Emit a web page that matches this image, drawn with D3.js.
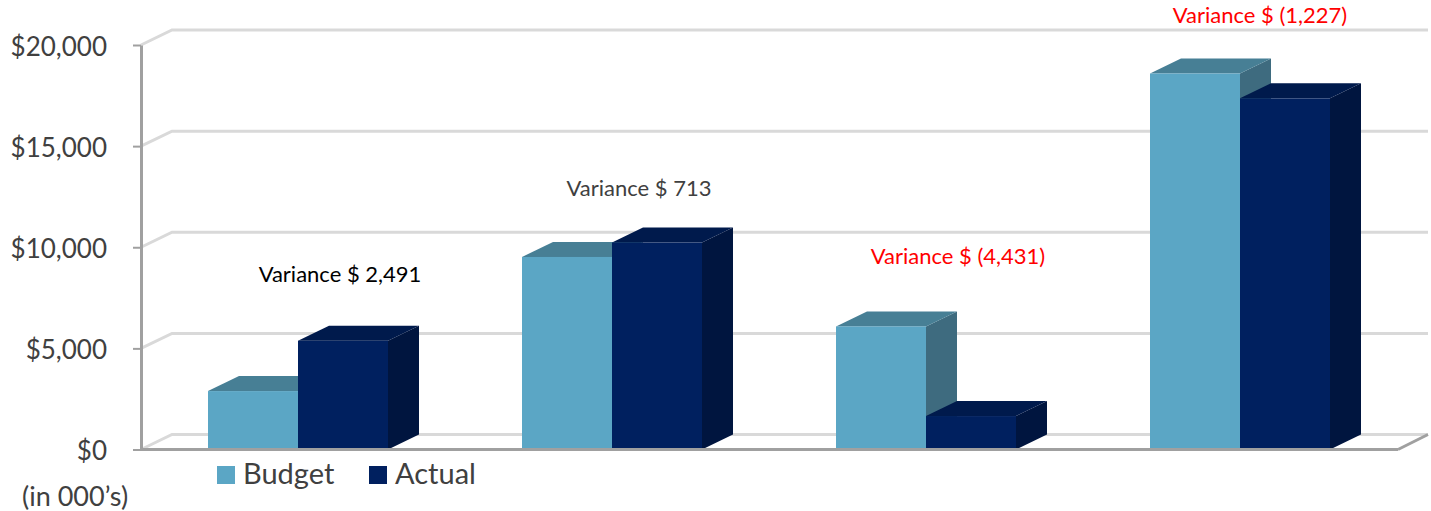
<!DOCTYPE html>
<html>
<head>
<meta charset="utf-8">
<script src="https://cdn.jsdelivr.net/npm/d3@7"></script>
<style>
  html, body { margin: 0; padding: 0; background: #fff; }
  svg { display: block; }
  text { font-family: Lato, "Open Sans", sans-serif; }
</style>
</head>
<body>
<script>
var quarters = ["Q1", "Q2", "Q3", "Q4"];
var seriesNames = ["Budget", "Actual"];
var budget = [2889, 9520, 6085, 18590];
var actual = [5380, 10233, 1654, 17363];
var tickValues = [0, 5000, 10000, 15000, 20000];
var varianceLabels = ["Variance $ 2,491", "Variance $ 713", "Variance $ (4,431)", "Variance $ (1,227)"];

var svgWidth = 1431;
var svgHeight = 511;

// 3D look: how far the back wall is shifted from the front plane
var depthX = 31;
var depthY = -15;

var plotLeft = 141, plotRight = 1397, plotTop = 45, plotBottom = 449.5;

var colors = {
  Budget: { front: "#5ba6c5", top: "#477f95", side: "#3e6b7f" },
  Actual: { front: "#00205f", top: "#001a4c", side: "#00153f" }
};

// label anchor relative to band centre, and baseline
var labelLayout = [
  { dx: 42, y: 282, fill: "#000000" },
  { dx: 27, y: 196, fill: "#404040" },
  { dx: 32, y: 264, fill: "#ff0000" },
  { dx: 20, y: 23, fill: "#ff0000" }
];

var svg = d3.select("body")
  .append("svg")
  .attr("width", svgWidth)
  .attr("height", svgHeight);

var x = d3.scaleBand()
  .domain(quarters)
  .range([plotLeft, plotRight]);

var barWidth = 90;
var inner = d3.scaleBand()
  .domain(seriesNames)
  .range([0, barWidth * 2]);

var y = d3.scaleLinear()
  .domain([0, 20000])
  .range([plotBottom, plotTop]);

// Back wall gridlines
var grid = svg.append("g");
tickValues.forEach(function(t) {
  grid.append("path")
    .attr("d", d3.line()([[plotLeft, y(t)], [plotLeft + depthX, y(t) + depthY], [plotRight + depthX, y(t) + depthY]]))
    .attr("fill", "none")
    .attr("stroke", "#d9d9d9")
    .attr("stroke-width", 3);
});

// Floor edge on the right, front edge drawn after the bars
svg.append("path")
  .attr("d", d3.line()([[plotRight + 1, plotBottom], [plotRight + depthX, plotBottom + depthY]]))
  .attr("fill", "none")
  .attr("stroke", "#a0a0a0")
  .attr("stroke-width", 3);

// Bars
var bars = svg.append("g");
quarters.forEach(function(q, i) {
  var groupStart = x(q) + (x.bandwidth() - barWidth * 2) / 2;
  var values = { Budget: budget[i], Actual: actual[i] };
  seriesNames.forEach(function(name) {
    var x0 = groupStart + inner(name);
    var x1 = x0 + inner.bandwidth();
    var y0 = y(values[name]);
    var y1 = y(0);
    var c = colors[name];
    var poly = d3.line();

    bars.append("path")
      .attr("d", poly([[x1, y1], [x1 + depthX, y1 + depthY], [x1 + depthX, y0 + depthY], [x1, y0]]) + "Z")
      .attr("fill", c.side);
    bars.append("path")
      .attr("d", poly([[x0, y0], [x0 + depthX, y0 + depthY], [x1 + depthX, y0 + depthY], [x1, y0]]) + "Z")
      .attr("fill", c.top);
    bars.append("rect")
      .attr("x", x0)
      .attr("y", y0)
      .attr("width", x1 - x0)
      .attr("height", y1 - y0)
      .attr("fill", c.front);
  });
});

// Value axis
var yAxis = d3.axisLeft(y)
  .tickValues(tickValues)
  .tickSizeInner(8)
  .tickSizeOuter(0)
  .tickPadding(26)
  .tickFormat(d3.format("$,"));

var axisGroup = svg.append("g")
  .attr("transform", "translate(" + plotLeft + ",0)")
  .call(yAxis);

axisGroup.select(".domain")
  .attr("stroke", "#a0a0a0")
  .attr("stroke-width", 3);
axisGroup.selectAll(".tick line")
  .attr("stroke", "#a0a0a0")
  .attr("stroke-width", 2);
axisGroup.selectAll(".tick text")
  .attr("font-size", 26)
  .attr("fill", "#404040")
  .attr("y", 2)
  .style("font-family", "Lato, 'Open Sans', sans-serif");

// Front floor edge
svg.append("line")
  .attr("x1", plotLeft)
  .attr("x2", plotRight + 1)
  .attr("y1", plotBottom)
  .attr("y2", plotBottom)
  .attr("stroke", "#a0a0a0")
  .attr("stroke-width", 3);

// Variance labels
svg.append("g")
  .selectAll("text")
  .data(varianceLabels)
  .enter()
  .append("text")
  .attr("x", (d, i) => x(quarters[i]) + x.bandwidth() / 2 + labelLayout[i].dx)
  .attr("y", (d, i) => labelLayout[i].y)
  .attr("text-anchor", "middle")
  .attr("font-size", 22)
  .attr("fill", (d, i) => labelLayout[i].fill)
  .text(d => d);

// Legend
var legendX = [217, 369];
var legend = svg.append("g");
seriesNames.forEach(function(name, i) {
  legend.append("rect")
    .attr("x", legendX[i])
    .attr("y", 466)
    .attr("width", 18)
    .attr("height", 18)
    .attr("fill", colors[name].front);
  legend.append("text")
    .attr("x", legendX[i] + 26)
    .attr("y", 484)
    .attr("font-size", 29)
    .attr("fill", "#404040")
    .text(name);
});

// Units note
svg.append("text")
  .attr("x", 22)
  .attr("y", 506)
  .attr("font-size", 27)
  .attr("fill", "#404040")
  .text("(in 000\u2019s)");
</script>
</body>
</html>
